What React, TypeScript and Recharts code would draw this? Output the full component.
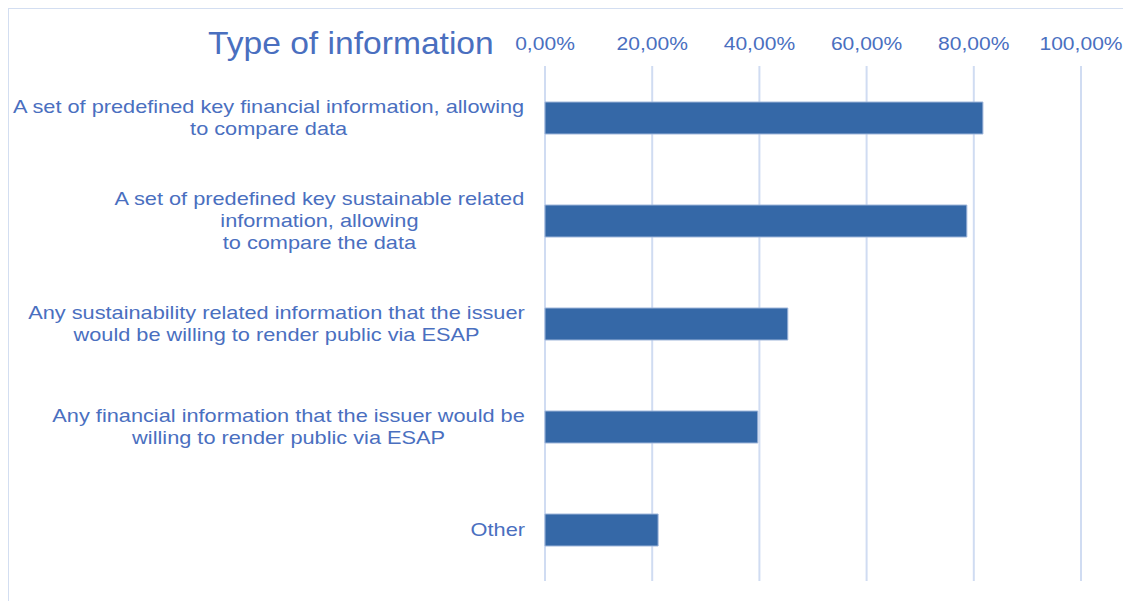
import React from "react";
import { BarChart, Bar, XAxis, YAxis, CartesianGrid } from "recharts";

const categories = [
  "A set of predefined key financial information, allowing\nto compare data",
  "A set of predefined key sustainable related\ninformation, allowing\nto compare the data",
  "Any sustainability related information that the issuer\nwould be willing to render public via ESAP",
  "Any financial information that the issuer would be\nwilling to render public via ESAP",
  "Other",
];
const values = [0.817, 0.787, 0.453, 0.397, 0.211];
const xTicks = [0, 0.2, 0.4, 0.6, 0.8, 1];
const title = "Type of information";

const data = categories.map((c, i) => ({ name: c, value: values[i] }));

const FONT = "'Liberation Sans', Arial, sans-serif";
const TEXT_COLOR = "#4a6fbf";
const LABEL_SIZE = 19;
const LABEL_SX = 1.145;
const TICK_SIZE = 18;
const TICK_SX = 1.17;

let ctx: CanvasRenderingContext2D | null = null;
function measure(s: string, size: number): number {
  if (!ctx) {
    const c = document.createElement("canvas");
    ctx = c.getContext("2d");
  }
  if (!ctx) return s.length * size * 0.5;
  ctx.font = `${size}px ${FONT}`;
  return ctx.measureText(s).width;
}

const fmt = (v: number) => (v * 100).toFixed(2).replace(".", ",") + "%";

const CatTick = (props: any) => {
  const { x, y, payload } = props;
  const lines: string[] = String(payload.value).split("\n");
  const maxW = Math.max(...lines.map((l) => measure(l, LABEL_SIZE))) * LABEL_SX;
  const cx = x - maxW / 2;
  const lh = 22;
  const start = y - ((lines.length - 1) * lh) / 2;
  return (
    <g transform={`translate(${cx},0) scale(${LABEL_SX},1)`}>
      {lines.map((l, i) => (
        <text
          key={i}
          x={0}
          y={start + i * lh}
          textAnchor="middle"
          dominantBaseline="central"
          fill={TEXT_COLOR}
          fontSize={LABEL_SIZE}
          fontFamily={FONT}
        >
          {l}
        </text>
      ))}
    </g>
  );
};

const PctTick = (props: any) => {
  const { x, y, payload } = props;
  return (
    <g transform={`translate(${x},${y}) scale(${TICK_SX},1)`}>
      <text
        x={0}
        y={0}
        textAnchor="middle"
        fill={TEXT_COLOR}
        fontSize={TICK_SIZE}
        fontFamily={FONT}
      >
        {fmt(payload.value)}
      </text>
    </g>
  );
};

export default function App() {
  return (
    <div
      style={{
        position: "relative",
        width: 1130,
        height: 600,
        borderLeft: "1px solid #d3def1",
        borderTop: "1px solid #d3def1",
        boxSizing: "border-box",
        fontFamily: FONT,
      }}
    >
      <div
        style={{
          position: "absolute",
          left: 199,
          top: 14,
          fontSize: 32,
          color: TEXT_COLOR,
          fontFamily: FONT,
          whiteSpace: "nowrap",
          lineHeight: "40px",
          transform: "scaleX(1.05)",
          transformOrigin: "left center",
        }}
      >
        {title}
      </div>
      <BarChart
        width={1123}
        height={592}
        data={data}
        layout="vertical"
        margin={{ top: 0, right: 51, bottom: 20, left: 0 }}
        barSize={32}
      >
        <CartesianGrid horizontal={false} stroke="#d0dcf2" strokeWidth={2} />
        <XAxis
          type="number"
          orientation="top"
          domain={[0, 1]}
          ticks={xTicks}
          axisLine={false}
          tickLine={false}
          tickSize={0}
          tickMargin={16}
          height={57}
          interval={0}
          tick={<PctTick />}
        />
        <YAxis
          type="category"
          dataKey="name"
          width={536}
          axisLine={false}
          tickLine={false}
          tickSize={0}
          tickMargin={20}
          interval={0}
          tick={<CatTick />}
        />
        <Bar
          dataKey="value"
          fill="#3568a7"
          stroke="#9fb6da"
          strokeWidth={1}
          isAnimationActive={false}
        />
      </BarChart>
    </div>
  );
}
